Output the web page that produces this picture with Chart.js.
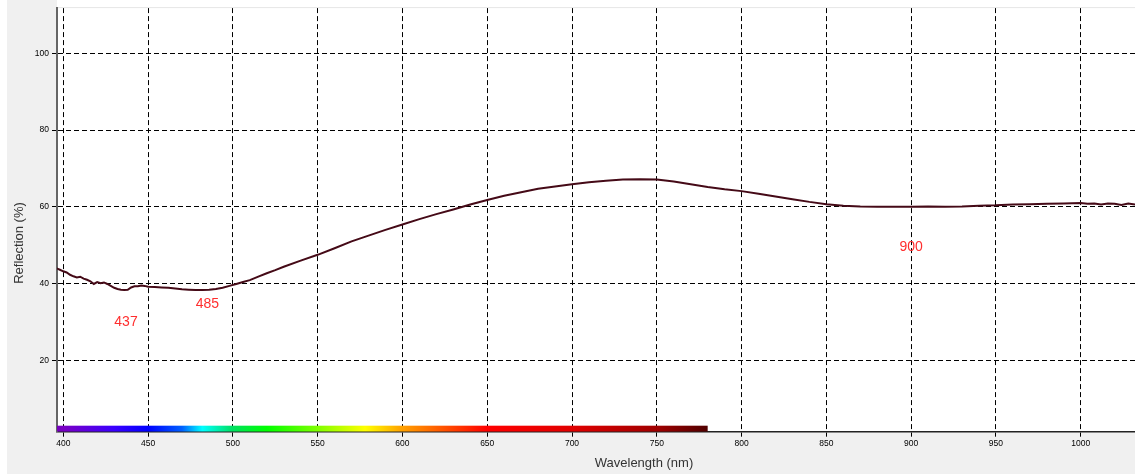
<!DOCTYPE html>
<html>
<head>
<meta charset="utf-8">
<script src="https://cdn.jsdelivr.net/npm/chart.js@4.4.0/dist/chart.umd.min.js"></script>
<style>
  html, body { margin: 0; padding: 0; background: #fff; }
  #wrap { width: 1135px; height: 474px; }
</style>
</head>
<body>
<div id="wrap"><canvas id="spec"></canvas></div>
<script>
// wavelength (nm) and reflection (%)
const wavelengths = [396, 398, 400, 402, 404, 406, 408, 410, 412, 414, 416, 418, 420, 422, 424, 426, 428, 430,
  432, 434, 436, 438, 440, 442, 444, 446, 448, 450, 454, 458, 462, 466, 470, 474, 478, 482, 486, 490, 494, 498,
  502, 506, 510, 515, 520, 525, 530, 540, 550, 560, 570, 580, 590, 600, 610, 620, 630, 640, 650, 660, 670, 680,
  690, 700, 710, 720, 730, 740, 750, 760, 770, 780, 790, 800, 810, 820, 830, 840, 850, 860, 870, 880, 890, 900,
  910, 920, 930, 940, 950, 960, 970, 980, 990, 1000, 1004, 1008, 1012, 1016, 1020, 1024, 1028, 1032];
const reflection = [44.0, 43.6, 43.2, 42.9, 42.3, 41.9, 41.6, 41.8, 41.3, 41.0, 40.6, 39.9, 40.4, 40.1, 40.3, 39.9, 39.4, 38.9,
  38.6, 38.4, 38.3, 38.4, 39.0, 39.3, 39.3, 39.5, 39.4, 39.2, 39.1, 39.0, 38.9, 38.7, 38.5, 38.4, 38.3, 38.3, 38.4, 38.6, 38.9, 39.4,
  39.9, 40.4, 40.9, 41.8, 42.7, 43.5, 44.4, 46.0, 47.5, 49.2, 51.0, 52.5, 54.0, 55.4, 56.8, 58.1, 59.3, 60.6, 61.8, 62.9, 63.8, 64.7,
  65.3, 65.9, 66.4, 66.8, 67.1, 67.2, 67.1, 66.6, 65.9, 65.2, 64.6, 64.1, 63.4, 62.7, 62.0, 61.3, 60.7, 60.3, 60.1, 60.0, 60.0, 60.0,
  60.1, 60.0, 60.1, 60.3, 60.4, 60.6, 60.7, 60.8, 60.9, 61.0, 60.8, 60.9, 60.6, 60.9, 60.8, 60.5, 60.9, 60.6];

const xTicks = [400, 450, 500, 550, 600, 650, 700, 750, 800, 850, 900, 950, 1000];
const yTicks = [20, 40, 60, 80, 100];

// peak annotations
const peakLabels = ['437', '485', '900'];
const peakX = [437, 485, 900];
const peakY = [30, 34.6, 49.5];

// visible spectrum strip
const spectrumNm = [380, 400, 430, 450, 470, 482, 500, 520, 550, 578, 600, 630, 650, 700, 750, 780];
const spectrumColors = ['#5a0090', '#7a00c4', '#3a00ff', '#0000ff', '#0060ff', '#00ffff', '#00e060', '#00ff00',
  '#80ff00', '#ffff00', '#ffa000', '#ff4000', '#ff0000', '#e00000', '#a00000', '#500000'];

const panel = {
  id: 'panel',
  beforeDraw(chart) {
    const { ctx, chartArea: a, width, height } = chart;
    ctx.save();
    ctx.fillStyle = '#fff';
    ctx.fillRect(0, 0, width, height);
    ctx.fillStyle = '#f0f0f0';
    ctx.fillRect(7, 0, a.left - 7, height);
    ctx.fillRect(7, a.bottom, width - 7, height - a.bottom);
    ctx.fillStyle = '#e6e6e6';
    ctx.fillRect(a.left, a.top - 1, a.right - a.left, 1);
    ctx.restore();
  },
  beforeDatasetsDraw(chart) {
    const { ctx, chartArea: a, scales: { x } } = chart;
    const first = spectrumNm[0], last = spectrumNm[spectrumNm.length - 1];
    const x0 = x.getPixelForValue(first);
    const x1 = x.getPixelForValue(last);
    const g = ctx.createLinearGradient(x0, 0, x1, 0);
    spectrumNm.forEach((nm, i) => g.addColorStop((nm - first) / (last - first), spectrumColors[i]));
    ctx.save();
    ctx.beginPath();
    ctx.rect(a.left, a.top, a.right - a.left, a.bottom - a.top);
    ctx.clip();
    ctx.fillStyle = g;
    ctx.fillRect(x0, a.bottom - 6, x1 - x0, 6);
    ctx.restore();
  },
  afterDraw(chart) {
    const { ctx, scales: { x, y } } = chart;
    ctx.save();
    ctx.fillStyle = '#ff2e2e';
    ctx.font = '14px "Liberation Sans", Arial, sans-serif';
    ctx.textAlign = 'center';
    ctx.textBaseline = 'middle';
    peakLabels.forEach((t, i) => ctx.fillText(t, x.getPixelForValue(peakX[i]), y.getPixelForValue(peakY[i])));

    ctx.fillStyle = '#333';
    ctx.font = '13px "Liberation Sans", Arial, sans-serif';
    ctx.fillText('Wavelength (nm)', 644, 463);
    ctx.translate(19, 243);
    ctx.rotate(-Math.PI / 2);
    ctx.fillText('Reflection (%)', 0, 0);
    ctx.restore();
  }
};

const tickFont = { family: '"Liberation Sans", Arial, sans-serif', size: 8.5 };

new Chart(document.getElementById('spec'), {
  type: 'line',
  data: {
    datasets: [{
      data: wavelengths.map((w, i) => ({ x: w, y: reflection[i] })),
      borderColor: '#450a17',
      borderWidth: 2,
      pointRadius: 0,
      tension: 0,
      fill: false
    }]
  },
  options: {
    responsive: true,
    maintainAspectRatio: false,
    animation: false,
    layout: { padding: { left: 7, top: 7, right: 0, bottom: 0 } },
    plugins: { legend: { display: false }, tooltip: { enabled: false } },
    scales: {
      x: {
        type: 'linear',
        min: 396.3,
        max: 1032,
        afterBuildTicks: s => { s.ticks = xTicks.map(v => ({ value: v })); },
        afterFit: s => { s.height = 42.3; },
        ticks: { color: '#000', font: tickFont, padding: 2, maxRotation: 0, callback: v => String(v) },
        grid: { color: '#000', lineWidth: 1, tickLength: 5, tickColor: '#000', tickBorderDash: [] },
        border: { color: '#222', width: 1.5, dash: [5, 3] }
      },
      y: {
        min: 1.4,
        max: 111.8,
        afterBuildTicks: s => { s.ticks = yTicks.map(v => ({ value: v })); },
        afterFit: s => { s.width = 50; },
        ticks: { color: '#000', font: tickFont, padding: 3, callback: v => String(v) },
        grid: { color: '#000', lineWidth: 1, tickLength: 5, tickColor: '#000', tickBorderDash: [] },
        border: { color: '#666', width: 2, dash: [5, 3] }
      }
    }
  },
  plugins: [panel]
});
</script>
</body>
</html>
